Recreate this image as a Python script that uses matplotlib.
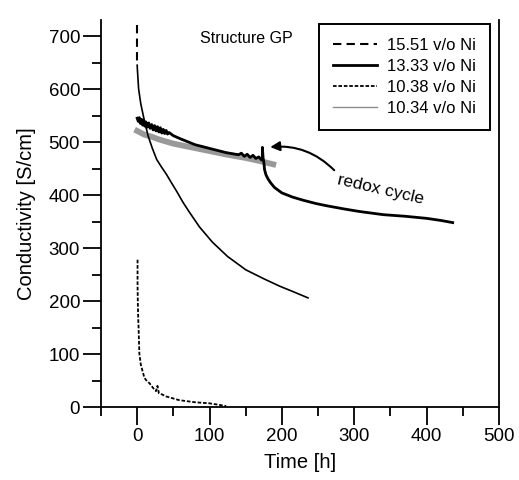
import matplotlib
matplotlib.use("Agg")
import matplotlib.pyplot as plt
from matplotlib.ticker import MultipleLocator

plt.rcParams['font.family'] = ['Liberation Sans', 'DejaVu Sans']

# 15.51 v/o Ni
t_1551 = [0, 0, 0, 0, 0.3, 2, 5, 10, 15, 21, 27, 34, 40, 47, 55, 63, 72, 86,
          104, 125, 150, 175, 197, 215, 236]
c_1551 = [720, 695, 668, 645, 637, 600, 572, 540, 512, 488, 467, 452, 440,
          424, 406, 387, 368, 340, 311, 284, 259, 242, 228, 218, 206]
n_dash = 4  # first points drawn dashed (vertical start)

# 13.33 v/o Ni
t_1333 = [0, 1.5, 3, 4.5, 6, 7.5, 9, 10.5, 12, 14, 16, 18, 20, 22, 24, 26,
          28, 30, 32, 34, 36, 38, 40, 42, 44, 50, 60, 80, 100, 123, 140, 144,
          148, 152, 156, 160, 164, 168, 172, 173, 173, 174, 175, 176, 178,
          181, 185, 190, 200, 215, 230, 247, 261, 285, 307, 340, 370, 400,
          420, 436]
c_1333 = [545, 539, 546, 535, 543, 532, 541, 530, 538, 528, 536, 526, 533,
          523, 531, 521, 529, 519, 527, 517, 524, 516, 522, 515, 518, 512,
          506, 495, 488, 480, 476, 479, 473, 477, 471, 475, 469, 472, 466,
          467, 490, 470, 462, 448, 438, 430, 422, 414, 404, 396, 390, 384,
          380, 374, 369, 363, 360, 356, 352, 348]

# 10.38 v/o Ni
t_1038 = [0.5, 0.5, 1, 1.5, 2, 3, 5, 7, 10, 14, 17, 22, 26, 28, 30, 34, 40,
          58, 80, 100, 123]
c_1038 = [278, 230, 190, 165, 146, 101, 80, 70, 55, 48, 45, 36, 30, 40, 26,
          24, 20, 13, 9, 7, 2]

# 10.34 v/o Ni
t_1034 = [0, 10, 20, 30, 50, 75, 100, 125, 150, 170, 188]
c_1034 = [521, 514, 510, 505, 497, 490, 483, 476, 470, 464, 458]

fig = plt.figure(figsize=(5.19, 4.80), dpi=100)
ax = fig.add_axes([0.1946, 0.152, 0.7669, 0.806])

ax.plot(t_1034, c_1034, color='#999999', lw=4.2, label='10.34 v/o Ni', zorder=2)
ax.plot(t_1333, c_1333, color='black', lw=2.0, label='13.33 v/o Ni', zorder=3)
ax.plot(t_1551[:n_dash], c_1551[:n_dash], color='black', lw=1.5,
        ls=(0, (4, 2.5)), zorder=3)
ax.plot(t_1551[n_dash - 1:], c_1551[n_dash - 1:], color='black', lw=1.2, zorder=3)
ax.plot(t_1038, c_1038, color='black', lw=1.3, ls=(0, (2, 1)), zorder=3)

# legend handles in the order of the reference
h1, = ax.plot([], [], color='black', lw=1.5, ls=(0, (4, 2.5)))
h2, = ax.plot([], [], color='black', lw=2.0)
h3, = ax.plot([], [], color='black', lw=1.3, ls=(0, (2, 1)))
h4, = ax.plot([], [], color='#8c8c8c', lw=1.0)
leg = ax.legend([h1, h2, h3, h4],
                ['15.51 v/o Ni', '13.33 v/o Ni', '10.38 v/o Ni', '10.34 v/o Ni'],
                loc='upper right', bbox_to_anchor=(0.977, 0.99),
                borderaxespad=0,
                fontsize=12, frameon=True, fancybox=False, framealpha=1,
                edgecolor='black', handlelength=2.6, labelspacing=0.35,
                borderpad=0.85, handletextpad=0.6)
leg.get_frame().set_linewidth(1.4)

ax.text(0.249, 0.953, 'Structure GP', transform=ax.transAxes, fontsize=11.5,
        va='center', ha='left')

ax.annotate('', xy=(180, 490), xytext=(275, 443),
            arrowprops=dict(arrowstyle='-|>', color='black', lw=1.5,
                            mutation_scale=14,
                            connectionstyle='arc3,rad=0.25'))
ax.text(336, 410, 'redox cycle', fontsize=12.5, rotation=-13,
        ha='center', va='center')

ax.set_xlim(-50, 500)
ax.set_ylim(0, 730)
ax.xaxis.set_major_locator(MultipleLocator(100))
ax.xaxis.set_minor_locator(MultipleLocator(50))
ax.yaxis.set_major_locator(MultipleLocator(100))
ax.yaxis.set_minor_locator(MultipleLocator(50))
ax.tick_params(which='major', direction='out', length=13, width=1.3,
               labelsize=13.5, pad=2)
ax.tick_params(which='minor', direction='out', length=6.5, width=1.3)
ax.spines['top'].set_visible(False)
for s in ['left', 'bottom', 'right']:
    ax.spines[s].set_linewidth(1.3)

ax.set_xlabel('Time [h]', fontsize=14.5, labelpad=6)
ax.set_ylabel('Conductivity [S/cm]', fontsize=14.5, labelpad=9)

fig.savefig('out.png', dpi=100)
